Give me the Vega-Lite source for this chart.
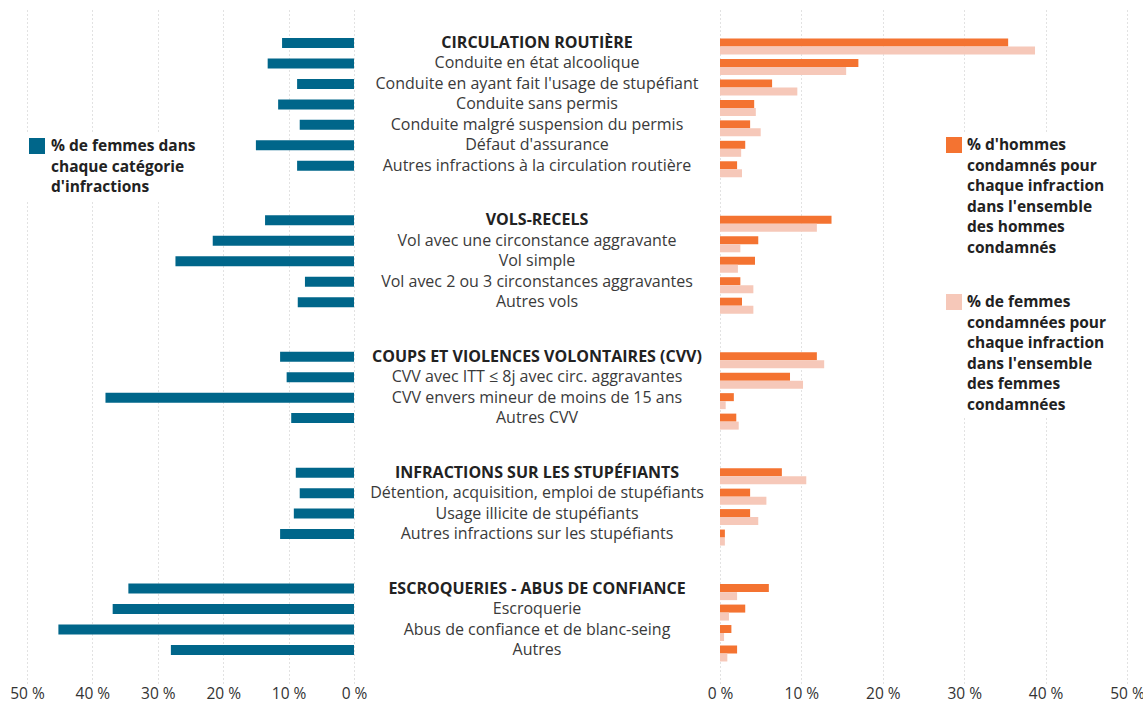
{
  "$schema": "https://vega.github.io/schema/vega-lite/v6.json",
  "padding": {"left": 9, "top": 10, "right": 0, "bottom": 0},
  "background": "white",
  "config": {
    "view": {"stroke": null},
    "font": "Open Sans",
    "axis": {
      "domain": false, "ticks": false, "labelFlush": false,
      "labelFont": "Open Sans", "labelFontSize": 15.5, "labelColor": "#333333", "labelPadding": 3,
      "grid": true, "gridColor": "#c4c4c4", "gridDash": [1, 3], "gridWidth": 1, "title": null
    },
    "legend": {
      "orient": "none", "title": null, "fillColor": "white", "padding": 4,
      "symbolType": "square", "symbolSize": 256, "symbolStrokeWidth": 0, "symbolOpacity": 1,
      "labelFont": "Open Sans", "labelFontSize": 15.5, "labelFontWeight": "bold", "labelColor": "#222222",
      "labelLimit": 400, "labelOffset": 5, "rowPadding": 38
    }
  },
  "datasets": {
    "d": [
      {"cat": "CIRCULATION ROUTIÈRE", "kind": "header", "part_femmes": 11.0, "hommes": 35.4, "femmes": 38.7},
      {"cat": "Conduite en état alcoolique", "kind": "item", "part_femmes": 13.2, "hommes": 17.0, "femmes": 15.5},
      {"cat": "Conduite en ayant fait l'usage de stupéfiant", "kind": "item", "part_femmes": 8.7, "hommes": 6.4, "femmes": 9.5},
      {"cat": "Conduite sans permis", "kind": "item", "part_femmes": 11.6, "hommes": 4.2, "femmes": 4.4},
      {"cat": "Conduite malgré suspension du permis", "kind": "item", "part_femmes": 8.3, "hommes": 3.7, "femmes": 5.0},
      {"cat": "Défaut d'assurance", "kind": "item", "part_femmes": 15.0, "hommes": 3.1, "femmes": 2.6},
      {"cat": "Autres infractions à la circulation routière", "kind": "item", "part_femmes": 8.7, "hommes": 2.1, "femmes": 2.7},
      {"cat": "VOLS-RECELS", "kind": "header", "part_femmes": 13.6, "hommes": 13.7, "femmes": 11.9},
      {"cat": "Vol avec une circonstance aggravante", "kind": "item", "part_femmes": 21.6, "hommes": 4.7, "femmes": 2.5},
      {"cat": "Vol simple", "kind": "item", "part_femmes": 27.3, "hommes": 4.3, "femmes": 2.2},
      {"cat": "Vol avec 2 ou 3 circonstances aggravantes", "kind": "item", "part_femmes": 7.5, "hommes": 2.5, "femmes": 4.1},
      {"cat": "Autres vols", "kind": "item", "part_femmes": 8.6, "hommes": 2.7, "femmes": 4.1},
      {"cat": "COUPS ET VIOLENCES VOLONTAIRES (CVV)", "kind": "header", "part_femmes": 11.3, "hommes": 11.9, "femmes": 12.8},
      {"cat": "CVV avec ITT ≤ 8j avec circ. aggravantes", "kind": "item", "part_femmes": 10.3, "hommes": 8.6, "femmes": 10.2},
      {"cat": "CVV envers mineur de moins de 15 ans", "kind": "item", "part_femmes": 38.0, "hommes": 1.7, "femmes": 0.7},
      {"cat": "Autres CVV", "kind": "item", "part_femmes": 9.6, "hommes": 2.0, "femmes": 2.3},
      {"cat": "INFRACTIONS SUR LES STUPÉFIANTS", "kind": "header", "part_femmes": 8.9, "hommes": 7.6, "femmes": 10.6},
      {"cat": "Détention, acquisition, emploi de stupéfiants", "kind": "item", "part_femmes": 8.3, "hommes": 3.7, "femmes": 5.7},
      {"cat": "Usage illicite de stupéfiants", "kind": "item", "part_femmes": 9.2, "hommes": 3.7, "femmes": 4.7},
      {"cat": "Autres infractions sur les stupéfiants", "kind": "item", "part_femmes": 11.3, "hommes": 0.6, "femmes": 0.6},
      {"cat": "ESCROQUERIES - ABUS DE CONFIANCE", "kind": "header", "part_femmes": 34.5, "hommes": 6.0, "femmes": 2.1},
      {"cat": "Escroquerie", "kind": "item", "part_femmes": 36.9, "hommes": 3.1, "femmes": 1.1},
      {"cat": "Abus de confiance et de blanc-seing", "kind": "item", "part_femmes": 45.2, "hommes": 1.4, "femmes": 0.5},
      {"cat": "Autres", "kind": "item", "part_femmes": 28.0, "hommes": 2.1, "femmes": 0.9}
    ]
  },
  "spacing": 0,
  "bounds": "flush",
  "resolve": {"scale": {"x": "independent", "y": "independent", "color": "independent"}},
  "hconcat": [
    {
      "width": 327,
      "height": 673,
      "data": {"name": "d"},
      "mark": {"type": "bar", "height": 10},
      "encoding": {
        "y": {
          "field": "cat", "type": "nominal", "axis": null,
          "scale": {
            "type": "band", "paddingInner": 0, "paddingOuter": 0.34,
            "domain": ["_1", "_2", "_3", "_4", "CIRCULATION ROUTIÈRE", "_5", "_6", "Conduite en état alcoolique", "_7", "_8", "Conduite en ayant fait l'usage de stupéfiant", "_9", "_10", "Conduite sans permis", "_11", "_12", "Conduite malgré suspension du permis", "_13", "_14", "Défaut d'assurance", "_15", "_16", "Autres infractions à la circulation routière", "_17", "_18", "_19", "_20", "_21", "_22", "_23", "VOLS-RECELS", "_24", "_25", "Vol avec une circonstance aggravante", "_26", "_27", "Vol simple", "_28", "_29", "Vol avec 2 ou 3 circonstances aggravantes", "_30", "_31", "Autres vols", "_32", "_33", "_34", "_35", "_36", "_37", "_38", "COUPS ET VIOLENCES VOLONTAIRES (CVV)", "_39", "_40", "CVV avec ITT ≤ 8j avec circ. aggravantes", "_41", "_42", "CVV envers mineur de moins de 15 ans", "_43", "_44", "Autres CVV", "_45", "_46", "_47", "_48", "_49", "_50", "_51", "INFRACTIONS SUR LES STUPÉFIANTS", "_52", "_53", "Détention, acquisition, emploi de stupéfiants", "_54", "_55", "Usage illicite de stupéfiants", "_56", "_57", "Autres infractions sur les stupéfiants", "_58", "_59", "_60", "_61", "_62", "_63", "_64", "ESCROQUERIES - ABUS DE CONFIANCE", "_65", "_66", "Escroquerie", "_67", "_68", "Abus de confiance et de blanc-seing", "_69", "_70", "Autres", "_71", "_72", "_73", "_74"]
          }
        },
        "x": {
          "field": "part_femmes", "type": "quantitative",
          "scale": {"domain": [0, 50], "reverse": true, "nice": false},
          "axis": {"values": [0, 10, 20, 30, 40, 50], "labelExpr": "datum.value + ' %'"}
        },
        "color": {
          "datum": "part",
          "scale": {"domain": ["part"], "range": ["#00668a"]},
          "legend": {
            "legendX": -2, "legendY": 124, "labelOffset": 6,
            "labelExpr": "[\"% de femmes dans\", \"chaque catégorie\", \"d'infractions\"]",
            "encode": {"labels": {"update": {"lineHeight": {"value": 20.5}}}}
          }
        }
      }
    },
    {
      "width": 366,
      "height": 673,
      "data": {"name": "d"},
      "encoding": {
        "y": {
          "field": "cat", "type": "nominal", "axis": null,
          "scale": {
            "type": "band", "paddingInner": 0, "paddingOuter": 0.34,
            "domain": ["_1", "_2", "_3", "_4", "CIRCULATION ROUTIÈRE", "_5", "_6", "Conduite en état alcoolique", "_7", "_8", "Conduite en ayant fait l'usage de stupéfiant", "_9", "_10", "Conduite sans permis", "_11", "_12", "Conduite malgré suspension du permis", "_13", "_14", "Défaut d'assurance", "_15", "_16", "Autres infractions à la circulation routière", "_17", "_18", "_19", "_20", "_21", "_22", "_23", "VOLS-RECELS", "_24", "_25", "Vol avec une circonstance aggravante", "_26", "_27", "Vol simple", "_28", "_29", "Vol avec 2 ou 3 circonstances aggravantes", "_30", "_31", "Autres vols", "_32", "_33", "_34", "_35", "_36", "_37", "_38", "COUPS ET VIOLENCES VOLONTAIRES (CVV)", "_39", "_40", "CVV avec ITT ≤ 8j avec circ. aggravantes", "_41", "_42", "CVV envers mineur de moins de 15 ans", "_43", "_44", "Autres CVV", "_45", "_46", "_47", "_48", "_49", "_50", "_51", "INFRACTIONS SUR LES STUPÉFIANTS", "_52", "_53", "Détention, acquisition, emploi de stupéfiants", "_54", "_55", "Usage illicite de stupéfiants", "_56", "_57", "Autres infractions sur les stupéfiants", "_58", "_59", "_60", "_61", "_62", "_63", "_64", "ESCROQUERIES - ABUS DE CONFIANCE", "_65", "_66", "Escroquerie", "_67", "_68", "Abus de confiance et de blanc-seing", "_69", "_70", "Autres", "_71", "_72", "_73", "_74"]
          }
        },
        "x": {"datum": 0.5, "type": "quantitative", "scale": {"domain": [0, 1]}, "axis": null},
        "text": {"field": "cat", "type": "nominal"}
      },
      "layer": [
        {
          "transform": [{"filter": "datum.kind == 'header'"}],
          "mark": {"type": "text", "align": "center", "baseline": "middle", "font": "Open Sans", "fontSize": 16, "fontWeight": "bold", "color": "#222222"}
        },
        {
          "transform": [{"filter": "datum.kind == 'item'"}],
          "mark": {"type": "text", "align": "center", "baseline": "middle", "font": "Open Sans", "fontSize": 16, "fontWeight": "normal", "color": "#3a3a3a"}
        }
      ]
    },
    {
      "width": 407,
      "height": 673,
      "data": {"name": "d"},
      "encoding": {
        "y": {
          "field": "cat", "type": "nominal", "axis": null,
          "scale": {
            "type": "band", "paddingInner": 0, "paddingOuter": 0.34,
            "domain": ["_1", "_2", "_3", "_4", "CIRCULATION ROUTIÈRE", "_5", "_6", "Conduite en état alcoolique", "_7", "_8", "Conduite en ayant fait l'usage de stupéfiant", "_9", "_10", "Conduite sans permis", "_11", "_12", "Conduite malgré suspension du permis", "_13", "_14", "Défaut d'assurance", "_15", "_16", "Autres infractions à la circulation routière", "_17", "_18", "_19", "_20", "_21", "_22", "_23", "VOLS-RECELS", "_24", "_25", "Vol avec une circonstance aggravante", "_26", "_27", "Vol simple", "_28", "_29", "Vol avec 2 ou 3 circonstances aggravantes", "_30", "_31", "Autres vols", "_32", "_33", "_34", "_35", "_36", "_37", "_38", "COUPS ET VIOLENCES VOLONTAIRES (CVV)", "_39", "_40", "CVV avec ITT ≤ 8j avec circ. aggravantes", "_41", "_42", "CVV envers mineur de moins de 15 ans", "_43", "_44", "Autres CVV", "_45", "_46", "_47", "_48", "_49", "_50", "_51", "INFRACTIONS SUR LES STUPÉFIANTS", "_52", "_53", "Détention, acquisition, emploi de stupéfiants", "_54", "_55", "Usage illicite de stupéfiants", "_56", "_57", "Autres infractions sur les stupéfiants", "_58", "_59", "_60", "_61", "_62", "_63", "_64", "ESCROQUERIES - ABUS DE CONFIANCE", "_65", "_66", "Escroquerie", "_67", "_68", "Abus de confiance et de blanc-seing", "_69", "_70", "Autres", "_71", "_72", "_73", "_74"]
          }
        }
      },
      "layer": [
        {
          "mark": {"type": "bar", "height": 8, "yOffset": -0.5},
          "encoding": {
            "x": {
              "field": "hommes", "type": "quantitative",
              "scale": {"domain": [0, 50], "nice": false},
              "axis": {"values": [0, 10, 20, 30, 40, 50], "labelExpr": "datum.value + ' %'"}
            },
            "color": {
              "datum": "hommes",
              "scale": {"domain": ["hommes", "femmes"], "range": ["#f47331", "#f6c8b9"]},
              "legend": {
                "legendX": 222, "legendY": 123,
                "labelExpr": "datum.label == 'hommes' ? [\"% d'hommes\", \"condamnés pour\", \"chaque infraction\", \"dans l'ensemble\", \"des hommes\", \"condamnés\"] : [\"% de femmes\", \"condamnées pour\", \"chaque infraction\", \"dans l'ensemble\", \"des femmes\", \"condamnées\"]",
                "encode": {"labels": {"update": {"lineHeight": {"value": 20.5}}}}
              }
            }
          }
        },
        {
          "mark": {"type": "bar", "height": 8, "yOffset": 7.5},
          "encoding": {
            "x": {"field": "femmes", "type": "quantitative"},
            "color": {"datum": "femmes"}
          }
        }
      ]
    }
  ]
}
